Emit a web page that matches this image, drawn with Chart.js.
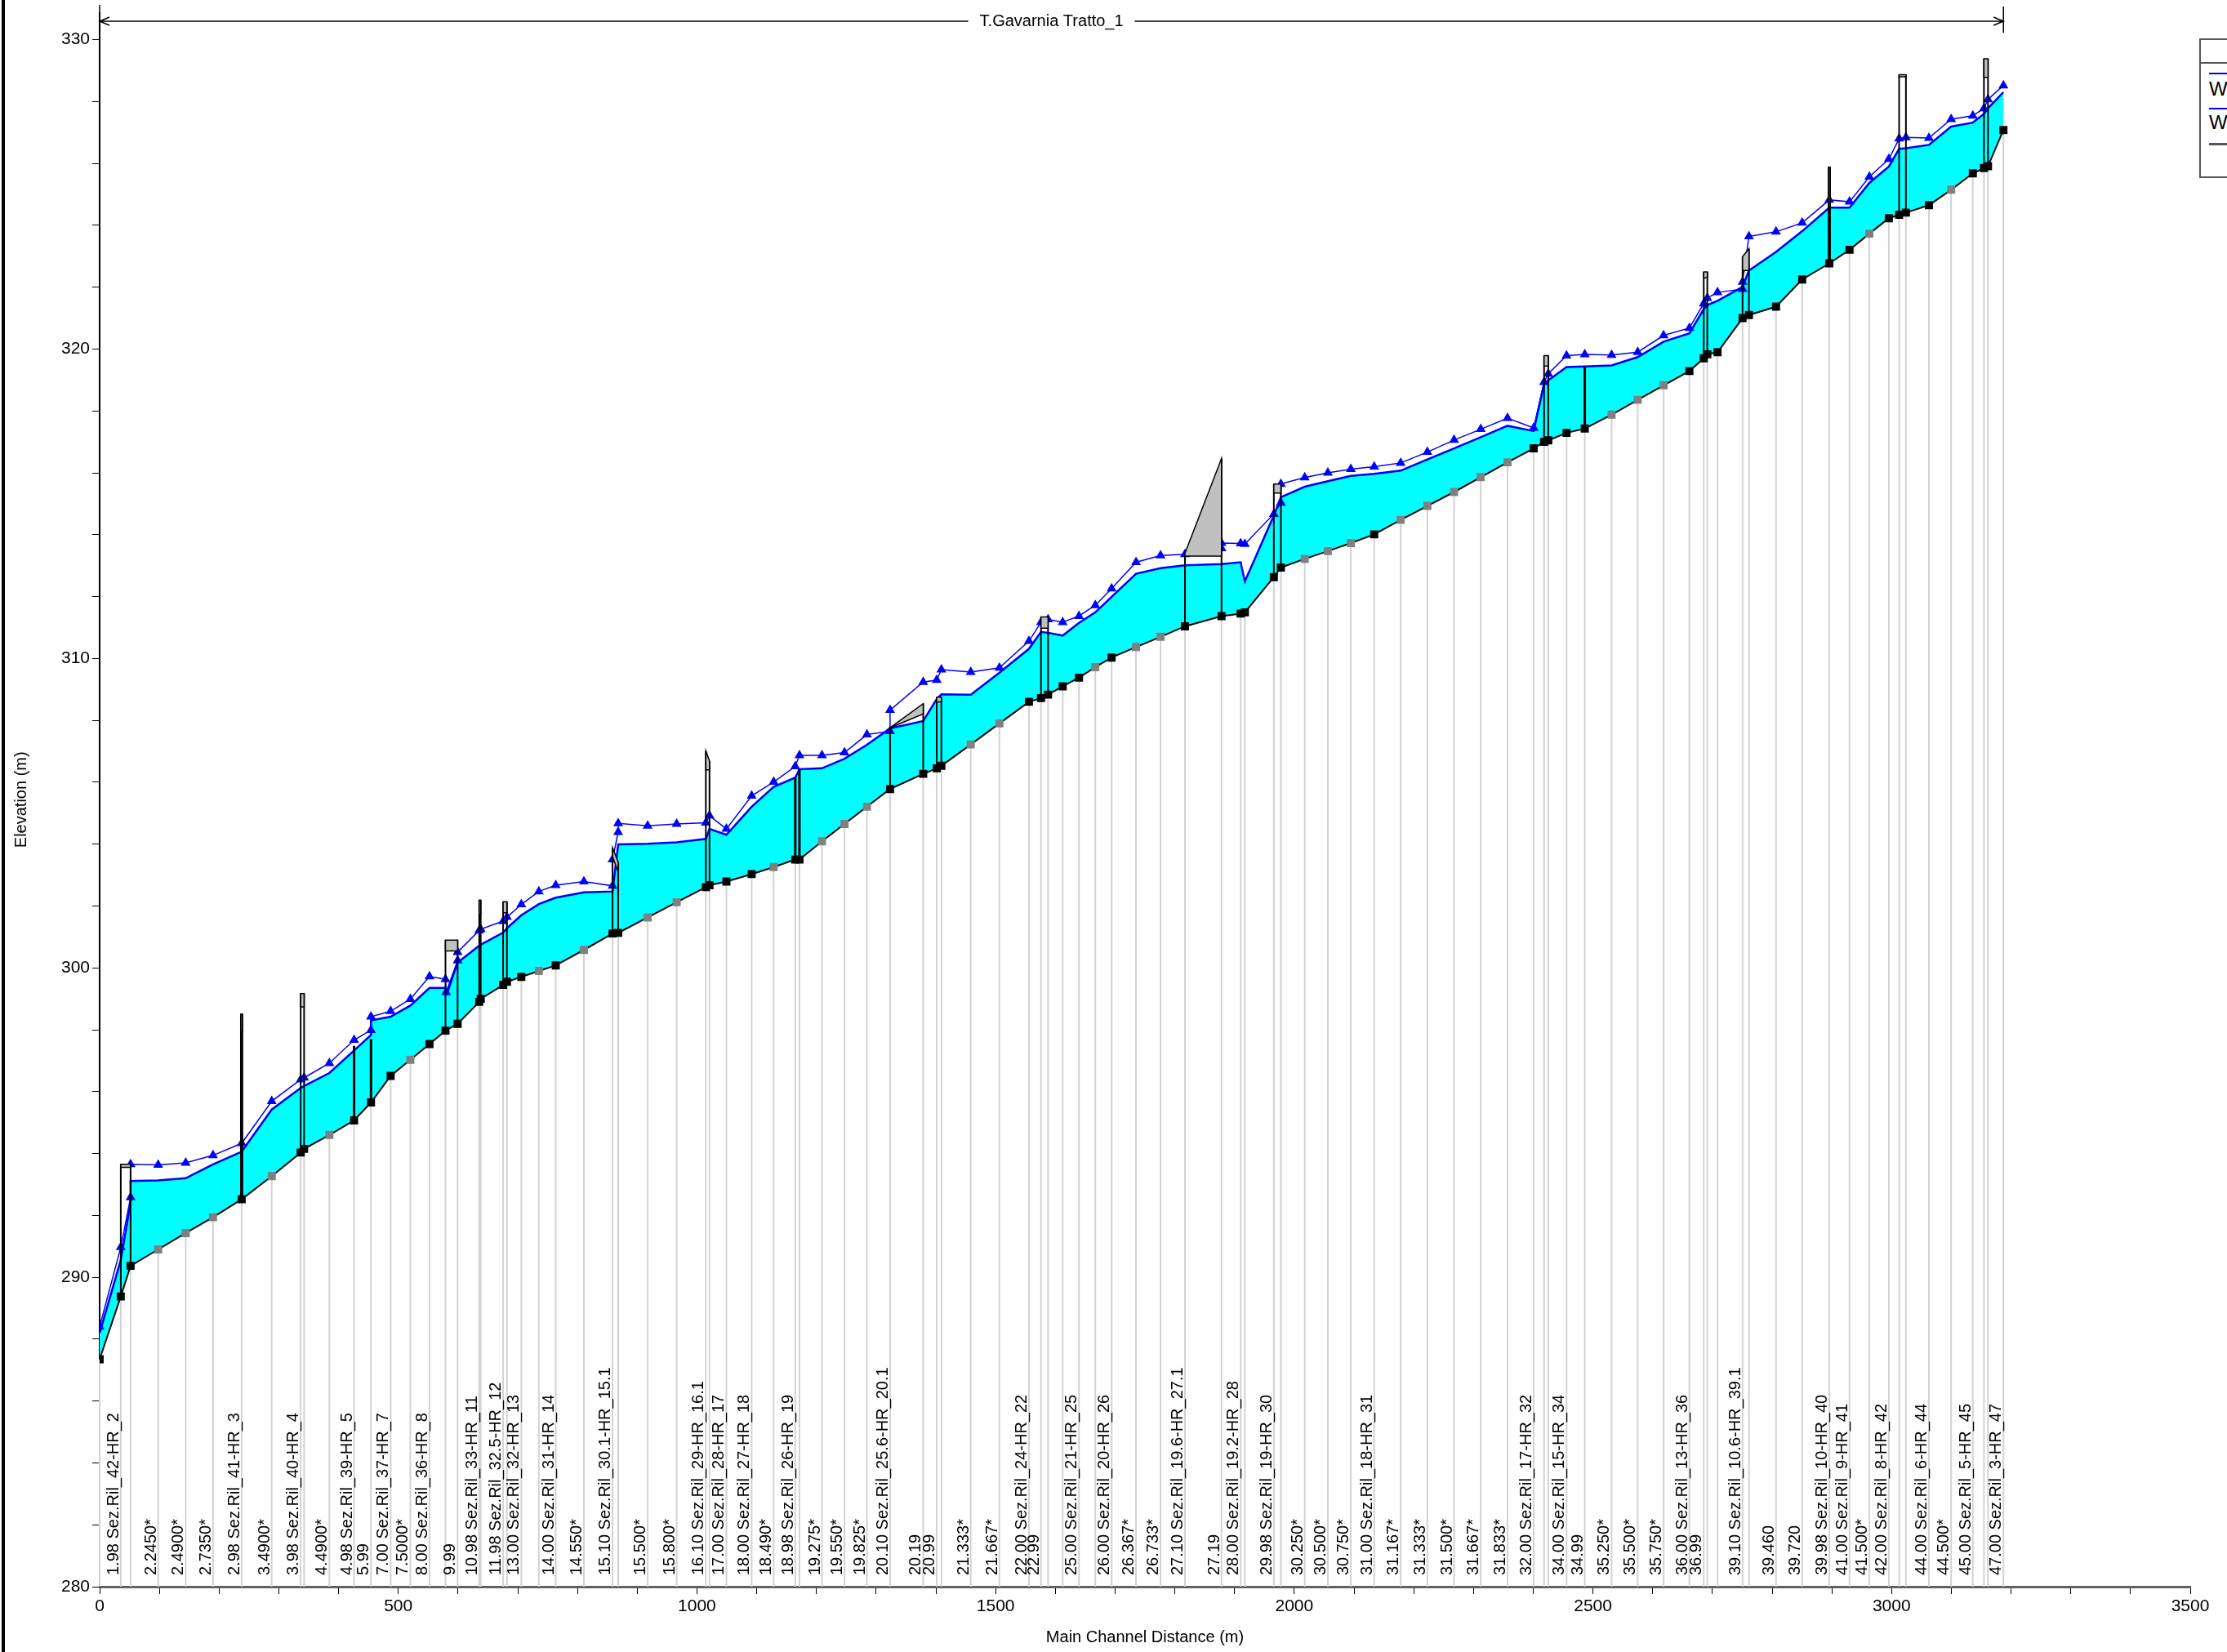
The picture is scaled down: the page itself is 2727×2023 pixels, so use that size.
<!DOCTYPE html>
<html>
<head>
<meta charset="utf-8">
<script src="https://cdn.jsdelivr.net/npm/chart.js@4.4.1/dist/chart.umd.min.js"></script>
<style>
  html, body { margin: 0; padding: 0; background: #fff; overflow: hidden; }
  #wrap { position: relative; width: 2727px; height: 2023px; }
  #bordo { position: absolute; left: 2px; top: 0; width: 4px; height: 2023px; background: #000; }
  #legenda { position: absolute; left: 2693px; top: 47px; width: 240px; height: 171px; border: 2px solid #555;
             box-sizing: border-box; background: #fff; font-family: "Liberation Sans", Arial, sans-serif; font-size: 24px; }
  #legenda .sep { position: absolute; left: 0; right: 0; top: 27px; border-top: 2px solid #555; }
  #legenda .linea { position: absolute; left: 10px; width: 80px; height: 0; }
  #legenda .testo { position: absolute; left: 10px; line-height: 24px; }
</style>
</head>
<body>
<div id="wrap">
  <canvas id="graficoProfilo" width="2727" height="2023"></canvas>
  <div id="bordo"></div>
  <div id="legenda">
    <div class="sep"></div>
    <div class="linea" style="top:40px;border-top:2px solid #0000ff"></div>
    <div class="testo" style="top:48px">WS PF 2</div>
    <div class="linea" style="top:83px;border-top:2px solid #0000ff"></div>
    <div class="testo" style="top:89px">WS PF 1</div>
    <div class="linea" style="top:126px;border-top:3px solid #555"></div>
  </div>
</div>
<script>
// Sezioni: progressiva (m), quota fondo (m), etichetta, interpolata
const sectionDist = [0, 35.4, 51.8, 98, 144.1, 189.8, 237.8, 288.1, 336.6, 342.3, 384.6, 426, 454.3, 487.2, 520.2, 552.2,
  579, 599.3, 635.5, 638, 675.5, 681.9, 706, 735.3, 763.6, 810.7, 858.7, 868.1, 917.5, 966, 1014.9, 1021, 1049.3,
  1091.6, 1128.4, 1164.6, 1171.6, 1209.3, 1247, 1284.6, 1323.3, 1378.8, 1401.4, 1409.2, 1458.4, 1506.4, 1555.8,
  1576, 1587.8, 1612.3, 1639.6, 1666.9, 1694.2, 1735.1, 1776.1, 1817, 1878.2, 1910.2, 1917.3, 1965.8, 1977.6,
  2017.5, 2056.2, 2094.7, 2133.8, 2178.1, 2222.8, 2267.5, 2312.2, 2357, 2400.8, 2418.2, 2425.2, 2455.8, 2486.3,
  2531.2, 2575, 2618.3, 2661.5, 2685.5, 2691.5, 2708.6, 2750.5, 2761.2, 2806.5, 2850.3, 2895.7, 2929.6, 2962.8,
  2995.4, 3012.6, 3024, 3062.5, 3099.7, 3136, 3154.6, 3161.4, 3187.2];

const bedElev = [287.35, 289.38, 290.37, 290.9, 291.43, 291.94, 292.52, 293.27, 294.03, 294.15, 294.6, 295.07, 295.65,
  296.51, 297.03, 297.54, 297.97, 298.19, 298.9, 299.0, 299.45, 299.55, 299.71, 299.9, 300.08, 300.58, 301.11, 301.13,
  301.63, 302.12, 302.61, 302.67, 302.79, 303.03, 303.26, 303.5, 303.5, 304.09, 304.65, 305.21, 305.78, 306.27, 306.45,
  306.53, 307.22, 307.9, 308.6, 308.72, 308.83, 309.1, 309.38, 309.72, 310.03, 310.37, 310.7, 311.04, 311.37, 311.45,
  311.49, 312.63, 312.94, 313.22, 313.47, 313.73, 314.01, 314.48, 314.93, 315.38, 315.86, 316.34, 316.79, 317.0,
  317.05, 317.29, 317.43, 317.88, 318.36, 318.83, 319.29, 319.7, 319.83, 319.9, 321.0, 321.1, 321.37, 322.25, 322.77,
  323.21, 323.73, 324.23, 324.34, 324.41, 324.65, 325.15, 325.68, 325.85, 325.91, 327.08];

const sectionLabels = ["", "1.98 Sez.Ril_42-HR_2", "", "2.2450*", "2.4900*", "2.7350*", "2.98 Sez.Ril_41-HR_3", "3.4900*",
  "3.98 Sez.Ril_40-HR_4", "", "4.4900*", "4.98 Sez.Ril_39-HR_5", "5.99", "7.00 Sez.Ril_37-HR_7", "7.5000*",
  "8.00 Sez.Ril_36-HR_8", "", "9.99", "10.98 Sez.Ril_33-HR_11", "", "11.98 Sez.Ril_32.5-HR_12", "",
  "13.00 Sez.Ril_32-HR_13", "", "14.00 Sez.Ril_31-HR_14", "14.550*", "15.10 Sez.Ril_30.1-HR_15.1", "", "15.500*",
  "15.800*", "16.10 Sez.Ril_29-HR_16.1", "", "17.00 Sez.Ril_28-HR_17", "18.00 Sez.Ril_27-HR_18", "18.490*",
  "18.98 Sez.Ril_26-HR_19", "", "19.275*", "19.550*", "19.825*", "20.10 Sez.Ril_25.6-HR_20.1", "20.19", "20.99", "",
  "21.333*", "21.667*", "22.00 Sez.Ril_24-HR_22", "22.99", "", "", "25.00 Sez.Ril_21-HR_25", "",
  "26.00 Sez.Ril_20-HR_26", "26.367*", "26.733*", "27.10 Sez.Ril_19.6-HR_27.1", "27.19", "28.00 Sez.Ril_19.2-HR_28", "",
  "29.98 Sez.Ril_19-HR_30", "", "30.250*", "30.500*", "30.750*", "31.00 Sez.Ril_18-HR_31", "31.167*", "31.333*",
  "31.500*", "31.667*", "31.833*", "32.00 Sez.Ril_17-HR_32", "", "", "34.00 Sez.Ril_15-HR_34", "34.99", "35.250*",
  "35.500*", "35.750*", "36.00 Sez.Ril_13-HR_36", "36.99", "", "", "39.10 Sez.Ril_10.6-HR_39.1", "", "39.460", "39.720",
  "39.98 Sez.Ril_10-HR_40", "41.00 Sez.Ril_9-HR_41", "41.500*", "42.00 Sez.Ril_8-HR_42", "", "",
  "44.00 Sez.Ril_6-HR_44", "44.500*", "45.00 Sez.Ril_5-HR_45", "", "", "47.00 Sez.Ril_3-HR_47"];

const interpolated = sectionDist.map((d, i) => sectionLabels[i].endsWith("*") || d === 735.3 || d === 1666.9);

// Pelo libero PF 1 (superficie riempita)
const ws1Dist = [0, 35.4, 51.8, 51.8, 98, 144.1, 189.8, 237.8, 288.1, 336.6, 342.3, 384.6, 426, 454.3, 454.3, 487.2,
  520.2, 552.2, 579, 582, 599.3, 635.5, 638, 675.5, 681.9, 706, 735.3, 763.6, 810.7, 858.7, 868.1, 917.5, 966, 1014.9,
  1021, 1049.3, 1091.6, 1128.4, 1164.6, 1171.6, 1209.3, 1247, 1284.6, 1323.3, 1378.8, 1401.4, 1409.2, 1458.4, 1506.4,
  1555.8, 1576, 1587.8, 1612.3, 1639.6, 1666.9, 1694.2, 1735.1, 1776.1, 1817, 1878.2, 1910.2, 1917.3, 1965.8, 1977.6,
  2017.5, 2056.2, 2094.7, 2133.8, 2178.1, 2222.8, 2267.5, 2312.2, 2357, 2400.8, 2418.2, 2425.2, 2455.8, 2486.3, 2531.2,
  2575, 2618.3, 2661.5, 2685.5, 2691.5, 2708.6, 2750.5, 2761.2, 2806.5, 2850.3, 2895.7, 2929.6, 2962.8, 2995.4, 3012.6,
  3024, 3062.5, 3099.7, 3136, 3154.6, 3161.4, 3187.2];
const ws1Elev = [288.2, 290.56, 292.4, 293.11, 293.13, 293.2, 293.65, 294.06, 295.42, 296.12, 296.18, 296.6, 297.33,
  297.83, 298.3, 298.42, 298.78, 299.35, 299.35, 299.2, 300.17, 300.72, 300.75, 301.14, 301.28, 301.7, 302.06, 302.27,
  302.44, 302.47, 303.99, 304.01, 304.06, 304.17, 304.49, 304.3, 305.21, 305.85, 306.15, 306.42, 306.45, 306.76, 307.21,
  307.74, 307.98, 308.69, 308.84, 308.83, 309.54, 310.31, 310.86, 310.83, 310.74, 311.15, 311.49, 311.99, 312.74,
  312.92, 313.01, 313.05, 313.11, 312.49, 314.62, 315.21, 315.55, 315.73, 315.9, 315.97, 316.07, 316.43, 316.79,
  317.15, 317.52, 317.35, 318.88, 318.99, 319.42, 319.44, 319.47, 319.74, 320.24, 320.51, 321.29, 321.42, 321.56,
  322.01, 322.54, 323.14, 323.81, 324.57, 324.57, 325.37, 325.9, 326.47, 326.49, 326.6, 327.19, 327.32, 327.6, 327.78,
  328.3];

// Pelo libero PF 2 (linea con triangoli)
const ws2Dist = [0, 35.4, 51.8, 51.8, 98, 144.1, 189.8, 237.8, 288.1, 336.6, 342.3, 384.6, 426, 454.3, 454.3, 487.2,
  520.2, 552.2, 579, 580, 599.3, 599.3, 635.5, 638, 675.5, 681.9, 706, 735.3, 763.6, 810.7, 858.7, 858.7, 868.1, 868.1,
  917.5, 966, 1014.9, 1021, 1049.3, 1091.6, 1128.4, 1164.6, 1171.6, 1209.3, 1247, 1284.6, 1323.3, 1323.3, 1378.8,
  1401.4, 1409.2, 1458.4, 1506.4, 1555.8, 1576, 1587.8, 1612.3, 1639.6, 1666.9, 1694.2, 1735.1, 1776.1, 1817, 1878.2,
  1878.2, 1910.2, 1917.3, 1965.8, 1977.6, 1977.6, 2017.5, 2056.2, 2094.7, 2133.8, 2178.1, 2222.8, 2267.5, 2312.2, 2357,
  2400.8, 2418.2, 2425.2, 2455.8, 2486.3, 2531.2, 2575, 2618.3, 2661.5, 2685.5, 2691.5, 2708.6, 2750.5, 2750.5, 2761.2,
  2806.5, 2850.3, 2895.7, 2929.6, 2962.8, 2995.4, 3012.6, 3024, 3062.5, 3099.7, 3136, 3154.6, 3161.4, 3187.2];
const ws2Elev = [288.4, 290.97, 292.58, 293.65, 293.63, 293.7, 293.94, 294.33, 295.69, 296.39, 296.45, 296.92, 297.67,
  297.99, 298.42, 298.6, 298.99, 299.72, 299.63, 299.21, 300.24, 300.51, 301.21, 301.25, 301.51, 301.64, 302.05, 302.47,
  302.67, 302.79, 302.65, 303.5, 304.39, 304.67, 304.59, 304.65, 304.69, 304.92, 304.49, 305.56, 306.01, 306.51, 306.87,
  306.87, 306.96, 307.54, 307.65, 308.33, 309.24, 309.3, 309.64, 309.56, 309.7, 310.56, 311.17, 311.26, 311.17, 311.37,
  311.72, 312.26, 313.11, 313.33, 313.37, 313.56, 313.73, 313.72, 313.7, 314.67, 315.03, 315.64, 315.85, 316.0, 316.12,
  316.2, 316.32, 316.67, 317.06, 317.41, 317.77, 317.45, 318.93, 319.2, 319.79, 319.83, 319.81, 319.9, 320.44, 320.68,
  321.47, 321.65, 321.83, 321.94, 322.17, 323.64, 323.79, 324.08, 324.82, 324.76, 325.57, 326.14, 326.8, 326.84,
  326.82, 327.43, 327.54, 327.78, 328.07, 328.52];

// Ponti / manufatti: progressive inizio-fine, quote impalcato (sopra / sotto)
const structStart = [35.4, 236.5, 336.6, 426, 454.3, 579, 635.5, 675.5, 858.7, 1014.9, 1164.6, 1171.6, 1323.3, 1401.4,
  1576, 1817, 1965.8, 2418.2, 2486.3, 2685.5, 2750.5, 2894.5, 3012.6, 3154.6];
const structEnd = [51.8, 239, 342.3, 426, 454.3, 599.3, 638, 681.9, 868.1, 1021, 1164.6, 1171.6, 1378.8, 1409.2,
  1587.8, 1878.2, 1977.6, 2425.2, 2486.3, 2691.5, 2761.2, 2897, 3024, 3161.4];
const structTopStart = [293.65, 298.51, 299.17, 297.48, 297.7, 300.9, 302.19, 302.14, 303.88, 307.01, 306.15, 306.42,
  307.76, 308.75, 311.34, 313.4, 315.64, 319.79, 319.44, 322.49, 322.99, 325.88, 328.87, 329.38];
const structTopEnd = [293.65, 298.51, 299.17, 297.48, 297.7, 300.9, 302.19, 302.14, 303.42, 306.69, 306.15, 306.42,
  308.54, 308.75, 311.34, 316.46, 315.64, 319.79, 319.44, 322.49, 323.24, 325.88, 328.87, 329.38];
const structLowStart = [293.55, 297.96, 298.74, 297.48, 297.7, 300.55, 301.73, 301.78, 303.6, 306.4, 306.15, 306.42,
  307.76, 308.6, 310.98, 313.31, 315.35, 319.45, 319.44, 322.3, 322.54, 324.6, 328.8, 328.78];
const structLowEnd = [293.55, 297.96, 298.74, 297.48, 297.7, 300.55, 301.73, 301.78, 303.1, 306.4, 306.15, 306.42,
  308.21, 308.6, 310.98, 313.31, 315.35, 319.45, 319.44, 322.3, 322.54, 324.6, 328.8, 328.78];

const reachName = "T.Gavarnia Tratto_1";
const FONT = '"Liberation Sans", Arial, sans-serif';

function fondoA(d) {
  for (let i = 1; i < sectionDist.length; i++) {
    if (d <= sectionDist[i]) {
      const d0 = sectionDist[i - 1], d1 = sectionDist[i];
      const t = d1 === d0 ? 0 : (d - d0) / (d1 - d0);
      return bedElev[i - 1] + t * (bedElev[i] - bedElev[i - 1]);
    }
  }
  return bedElev[bedElev.length - 1];
}

const pluginProfilo = {
  id: "profilo",
  beforeDatasetsDraw(chart) {
    const { ctx, scales: { x, y } } = chart;
    const base = y.getPixelForValue(280);
    ctx.save();
    ctx.strokeStyle = "#d2d2d2";
    ctx.lineWidth = 2;
    sectionDist.forEach((d, i) => {
      const px = x.getPixelForValue(d);
      ctx.beginPath();
      ctx.moveTo(px, base);
      ctx.lineTo(px, y.getPixelForValue(bedElev[i]));
      ctx.stroke();
    });
    ctx.fillStyle = "#000";
    ctx.font = "20px " + FONT;
    ctx.textAlign = "left";
    ctx.textBaseline = "alphabetic";
    sectionDist.forEach((d, i) => {
      if (!sectionLabels[i]) return;
      const px = x.getPixelForValue(d);
      ctx.save();
      ctx.translate(px - 3, base - 14);
      ctx.rotate(-Math.PI / 2);
      ctx.fillText(sectionLabels[i], 0, 0);
      ctx.restore();
    });
    ctx.restore();
  },
  afterDatasetsDraw(chart) {
    const { ctx, scales: { x, y } } = chart;
    ctx.save();
    structStart.forEach((s, i) => {
      const e = structEnd[i];
      const x1 = x.getPixelForValue(s), x2 = x.getPixelForValue(e);
      const b1 = y.getPixelForValue(fondoA(s)), b2 = y.getPixelForValue(fondoA(e));
      const t1 = y.getPixelForValue(structTopStart[i]), t2 = y.getPixelForValue(structTopEnd[i]);
      const l1 = y.getPixelForValue(structLowStart[i]), l2 = y.getPixelForValue(structLowEnd[i]);
      if (s === e) {
        ctx.strokeStyle = "#000";
        ctx.lineWidth = 3;
        ctx.beginPath();
        ctx.moveTo(x1, b1);
        ctx.lineTo(x1, t1);
        ctx.stroke();
        return;
      }
      ctx.strokeStyle = "#000";
      ctx.lineWidth = 2;
      ctx.beginPath();
      ctx.moveTo(x1, b1); ctx.lineTo(x1, t1);
      ctx.moveTo(x2, b2); ctx.lineTo(x2, t2);
      ctx.stroke();
      ctx.fillStyle = "#c0c0c0";
      ctx.lineWidth = 1.5;
      ctx.beginPath();
      ctx.moveTo(x1, t1); ctx.lineTo(x2, t2); ctx.lineTo(x2, l2); ctx.lineTo(x1, l1);
      ctx.closePath();
      ctx.fill();
      ctx.stroke();
    });
    ctx.restore();
  },
  afterDraw(chart) {
    const { ctx, scales: { x, y } } = chart;
    ctx.save();
    // tratto del corso d'acqua
    const a = x.getPixelForValue(0), b = x.getPixelForValue(sectionDist[sectionDist.length - 1]);
    const yy = 26;
    ctx.font = "20px " + FONT;
    const tw = ctx.measureText(reachName).width;
    const mid = (a + b) / 2;
    ctx.strokeStyle = "#000";
    ctx.lineWidth = 1.5;
    ctx.beginPath();
    ctx.moveTo(a, 6); ctx.lineTo(a, y.top);
    ctx.moveTo(a, yy); ctx.lineTo(mid - tw / 2 - 14, yy);
    ctx.moveTo(mid + tw / 2 + 14, yy); ctx.lineTo(b, yy);
    ctx.moveTo(a + 12, yy - 5); ctx.lineTo(a, yy); ctx.lineTo(a + 12, yy + 5);
    ctx.moveTo(b - 12, yy - 5); ctx.lineTo(b, yy); ctx.lineTo(b - 12, yy + 5);
    ctx.moveTo(b, 8); ctx.lineTo(b, 40);
    ctx.stroke();
    ctx.fillStyle = "#000";
    ctx.textAlign = "center";
    ctx.textBaseline = "middle";
    ctx.fillText(reachName, mid, yy);
    // titoli assi
    ctx.fillText("Main Channel Distance (m)", (x.left + x.right) / 2, 2005);
    ctx.save();
    ctx.translate(26, (y.top + y.bottom) / 2);
    ctx.rotate(-Math.PI / 2);
    ctx.fillText("Elevation (m)", 0, 0);
    ctx.restore();
    ctx.restore();
  }
};

const bedPoints = sectionDist.map((d, i) => ({ x: d, y: bedElev[i] }));
const ws1Points = ws1Dist.map((d, i) => ({ x: d, y: ws1Elev[i] }));
const ws2Points = ws2Dist.map((d, i) => ({ x: d, y: ws2Elev[i] }));
const coloriFondo = interpolated.map(f => (f ? "#808080" : "#000000"));

const ctx = document.getElementById("graficoProfilo").getContext("2d");
new Chart(ctx, {
  type: "line",
  data: {
    datasets: [
      { label: "Ground", data: bedPoints, borderColor: "#000", borderWidth: 2, pointStyle: "rect", pointRadius: 7,
        pointBackgroundColor: coloriFondo, pointBorderColor: coloriFondo, pointBorderWidth: 0, fill: false, tension: 0 },
      { label: "WS PF 2", data: ws2Points, borderColor: "#0000ff", borderWidth: 1.5, pointStyle: "triangle", pointRadius: 7,
        pointBackgroundColor: "#0000ff", pointBorderColor: "#0000ff", pointBorderWidth: 0, fill: false, tension: 0 },
      { label: "WS PF 1", data: ws1Points, borderColor: "#0000ff", borderWidth: 2.5, pointRadius: 0,
        backgroundColor: "#00ffff", fill: { target: 0, above: "#00ffff", below: "#00ffff" }, tension: 0 }
    ]
  },
  options: {
    responsive: false,
    animation: false,
    events: [],
    layout: { padding: { top: 14, right: 45, left: 0, bottom: 0 } },
    plugins: { legend: { display: false }, tooltip: { enabled: false } },
    scales: {
      x: {
        type: "linear", min: 0, max: 3500,
        ticks: { stepSize: 100, autoSkip: false, maxRotation: 0, color: "#000", padding: 3,
                 font: { family: FONT, size: 21 }, callback: v => (Math.round(v) % 500 === 0 ? v : "") },
        grid: { drawOnChartArea: false, tickLength: 9, tickColor: "#000", color: "#000" },
        border: { color: "#606060", width: 3 },
        afterFit: s => { s.height = 80; }
      },
      y: {
        type: "linear", min: 280, max: 330.87,
        ticks: { stepSize: 2, includeBounds: false, color: "#000", padding: 3,
                 font: { family: FONT, size: 21 }, callback: v => (Math.round(v) % 10 === 0 ? v : "") },
        grid: { drawOnChartArea: false, tickLength: 9, tickColor: "#000", color: "#000" },
        border: { color: "#000", width: 2 },
        afterFit: s => { s.width = 122; }
      }
    }
  },
  plugins: [pluginProfilo]
});
</script>
</body>
</html>
